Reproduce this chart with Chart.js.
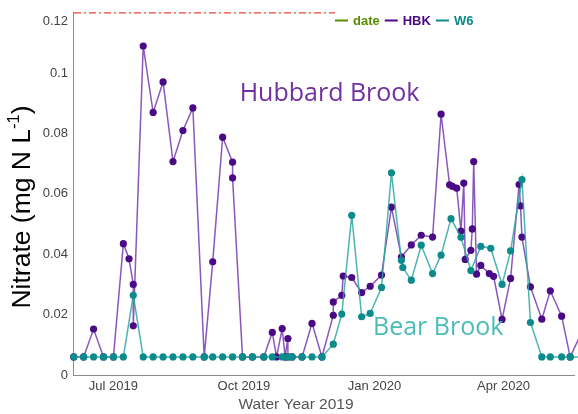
<!DOCTYPE html>
<html>
<head>
<meta charset="utf-8">
<script src="https://cdn.jsdelivr.net/npm/chart.js@4/dist/chart.umd.min.js"></script>
<style>
  html, body { margin: 0; padding: 0; background: #fff; }
</style>
</head>
<body>
<canvas id="nitrate" width="578" height="414"></canvas>
<script>
// weekly samples, Hubbard Brook (HBK) and Bear Brook / watershed 6 (W6)
const hbkDates = [
  '2019-06-03','2019-06-10','2019-06-17','2019-06-24','2019-07-01','2019-07-08','2019-07-12','2019-07-15','2019-07-15',
  '2019-07-22','2019-07-29','2019-08-05','2019-08-12','2019-08-19','2019-08-26','2019-09-03','2019-09-09','2019-09-16',
  '2019-09-23','2019-09-23','2019-09-30','2019-10-07','2019-10-15','2019-10-21','2019-10-24','2019-10-28','2019-10-30',
  '2019-11-01','2019-11-01','2019-11-04','2019-11-11','2019-11-18','2019-11-25','2019-12-03','2019-12-03','2019-12-09',
  '2019-12-10','2019-12-16','2019-12-23','2019-12-29','2020-01-06','2020-01-13','2020-01-20','2020-01-27','2020-02-03',
  '2020-02-11','2020-02-17','2020-02-23','2020-02-25','2020-02-28','2020-03-02','2020-03-04','2020-03-05','2020-03-09',
  '2020-03-10','2020-03-11','2020-03-13','2020-03-16','2020-03-22','2020-03-25','2020-03-31','2020-04-06','2020-04-12',
  '2020-04-13','2020-04-14','2020-04-20','2020-04-28','2020-05-04','2020-05-12','2020-05-18','2020-05-25'
];
const hbkValues = [
  0.006, 0.006, 0.0152, 0.006, 0.006, 0.0435, 0.0385, 0.030, 0.0163,
  0.109, 0.087, 0.0971, 0.0707, 0.081, 0.0885, 0.006, 0.0375, 0.0788,
  0.0705, 0.0653, 0.006, 0.006, 0.006, 0.0141, 0.006, 0.0154, 0.006,
  0.0121, 0.006, 0.006, 0.006, 0.0171, 0.006, 0.0198, 0.0242, 0.0264,
  0.0328, 0.0323, 0.0273, 0.0294, 0.0331, 0.0556, 0.0391, 0.0431, 0.0463,
  0.0457, 0.0864, 0.063, 0.0625, 0.0619, 0.0477, 0.0636, 0.0383, 0.0413,
  0.0484, 0.0707, 0.0334, 0.0363, 0.0336, 0.0327, 0.0184, 0.032, 0.0631,
  0.056, 0.0457, 0.0292, 0.0185, 0.0279, 0.0195, 0.006, 0.013
];
const w6Dates = [
  '2019-06-03','2019-06-10','2019-06-17','2019-06-24','2019-07-01','2019-07-08','2019-07-15','2019-07-22','2019-07-29',
  '2019-08-05','2019-08-12','2019-08-19','2019-08-26','2019-09-03','2019-09-09','2019-09-16','2019-09-23','2019-09-30',
  '2019-10-07','2019-10-15','2019-10-21','2019-10-28','2019-11-01','2019-11-04','2019-11-11','2019-11-18','2019-11-25',
  '2019-12-03','2019-12-09','2019-12-16','2019-12-23','2019-12-29','2020-01-06','2020-01-13','2020-01-20','2020-01-21',
  '2020-01-27','2020-02-03','2020-02-11','2020-02-17','2020-02-24','2020-03-02','2020-03-09','2020-03-16','2020-03-23',
  '2020-03-31','2020-04-06','2020-04-14','2020-04-20','2020-04-28','2020-05-04','2020-05-12','2020-05-18','2020-05-26'
];
const w6Values = [
  0.006, 0.006, 0.006, 0.006, 0.006, 0.006, 0.0264, 0.006, 0.006,
  0.006, 0.006, 0.006, 0.006, 0.006, 0.006, 0.006, 0.006, 0.006,
  0.006, 0.006, 0.006, 0.006, 0.006, 0.006, 0.006, 0.006, 0.006,
  0.0102, 0.0202, 0.0529, 0.0193, 0.0204, 0.029, 0.067, 0.038, 0.0356,
  0.0314, 0.043, 0.0336, 0.0397, 0.0518, 0.0456, 0.0346, 0.0426, 0.042,
  0.030, 0.0411, 0.0647, 0.0174, 0.006, 0.006, 0.006, 0.006, 0.006
];
const tickDates = ['2019-07-01', '2019-10-01', '2020-01-01', '2020-04-01'];
const tickLabels = ['Jul 2019', 'Oct 2019', 'Jan 2020', 'Apr 2020'];
const yTicks = [0, 0.02, 0.04, 0.06, 0.08, 0.1, 0.12];

// days since 1 Jun 2019
const day0 = Date.UTC(2019, 5, 1);
function toDay(s) {
  const [yy, mm, dd] = s.split('-').map(Number);
  return (Date.UTC(yy, mm - 1, dd) - day0) / 864e5;
}
const pts = (dates, vals) => dates.map((d, i) => ({ x: toDay(d), y: vals[i] }));
const fmt = v => String(Number(v.toFixed(3)));

const purple = '#4b0a85';
const teal = '#0b8b8b';
const tickFont = '13px "Liberation Sans", Arial, sans-serif';

const decorations = {
  id: 'decorations',
  afterDraw(chart) {
    const { ctx, chartArea: a, scales: { x, y } } = chart;
    ctx.save();

    // dash-dot line along the top of the plot
    const yTop = y.getPixelForValue(0.12);
    ctx.strokeStyle = '#f4433a';
    ctx.lineWidth = 1.3;
    ctx.setLineDash([7, 3, 2, 3]);
    ctx.beginPath();
    ctx.moveTo(a.left + 1, yTop);
    ctx.lineTo(335, yTop);
    ctx.stroke();
    ctx.setLineDash([]);

    // top tick label sits a little below its tick, as in the original
    ctx.font = tickFont;
    ctx.fillStyle = '#444';
    ctx.textAlign = 'right';
    ctx.textBaseline = 'middle';
    ctx.fillText(fmt(yTicks[yTicks.length - 1]), a.left - 5, y.getPixelForValue(0.12) + 8.5);

    // legend
    const items = [['date', '#5a8c00'], ['HBK', purple], ['W6', teal]];
    ctx.font = 'bold 13px "Liberation Sans", Arial, sans-serif';
    ctx.textAlign = 'left';
    let lx = 335;
    const ly = 20.5;
    items.forEach(([name, col]) => {
      ctx.strokeStyle = col;
      ctx.lineWidth = 2;
      ctx.beginPath();
      ctx.moveTo(lx, ly);
      ctx.lineTo(lx + 13, ly);
      ctx.stroke();
      ctx.fillStyle = col;
      ctx.fillText(name, lx + 18, ly + 0.5);
      lx += 18 + ctx.measureText(name).width + 5;
    });

    // site labels
    ctx.font = '25px "Open Sans", sans-serif';
    ctx.fillStyle = '#7030a0';
    ctx.fillText('Hubbard Brook', x.getPixelForValue(toDay('2019-09-28')), y.getPixelForValue(0.0933));
    ctx.fillStyle = '#4cbcb6';
    ctx.fillText('Bear Brook', x.getPixelForValue(toDay('2019-12-31')), y.getPixelForValue(0.0155));

    // axis titles
    ctx.fillStyle = '#555';
    ctx.font = '15.5px "Liberation Sans", Arial, sans-serif';
    ctx.textAlign = 'center';
    ctx.fillText('Water Year 2019', 296, 405);

    ctx.translate(23, 207);
    ctx.rotate(-Math.PI / 2);
    ctx.fillStyle = '#000';
    const big = '26.5px "Liberation Sans", Arial, sans-serif';
    const small = '16.5px "Liberation Sans", Arial, sans-serif';
    ctx.font = big;
    const p1 = 'Nitrate (mg N L';
    const w1 = ctx.measureText(p1).width;
    ctx.font = small;
    const w2 = ctx.measureText('-1').width;
    ctx.font = big;
    const w3 = ctx.measureText(')').width;
    let tx = -(w1 + w2 + w3) / 2;
    ctx.textAlign = 'left';
    ctx.fillText(p1, tx, 0);
    ctx.font = small;
    ctx.fillText('-1', tx + w1, -9);
    ctx.font = big;
    ctx.fillText(')', tx + w1 + w2, 0);
    ctx.restore();
  }
};

new Chart(document.getElementById('nitrate'), {
  type: 'line',
  data: {
    datasets: [
      {
        label: 'W6',
        data: pts(w6Dates, w6Values),
        borderColor: 'rgba(45, 168, 163, 0.85)',
        backgroundColor: teal,
        pointBackgroundColor: teal,
        borderWidth: 1.5,
        pointRadius: 3.6,
        pointBorderWidth: 0,
        order: 0
      },
      {
        label: 'HBK',
        data: pts(hbkDates, hbkValues),
        borderColor: 'rgba(118, 58, 175, 0.85)',
        backgroundColor: purple,
        pointBackgroundColor: purple,
        borderWidth: 1.5,
        pointRadius: 3.6,
        pointBorderWidth: 0,
        order: 1
      }
    ]
  },
  options: {
    responsive: false,
    animation: false,
    clip: false,
    layout: { padding: { top: 12, left: 0, right: 0, bottom: 0 } },
    plugins: { legend: { display: false }, tooltip: { enabled: false } },
    scales: {
      x: {
        type: 'linear',
        min: 1.5,
        max: 354.7,
        grid: { display: false, drawTicks: false },
        border: { display: true, color: '#8c8c8c', width: 1 },
        afterBuildTicks: s => { s.ticks = tickDates.map(d => ({ value: toDay(d) })); },
        afterFit: s => { s.height = 39; },
        ticks: {
          autoSkip: false,
          maxRotation: 0,
          padding: 4,
          color: '#444',
          font: { family: '"Liberation Sans", Arial, sans-serif', size: 13 },
          callback: (v, i) => tickLabels[i]
        }
      },
      y: {
        min: 0,
        max: 0.12,
        grid: { display: false, drawTicks: false },
        border: { display: true, color: '#8c8c8c', width: 1 },
        afterBuildTicks: s => { s.ticks = yTicks.map(v => ({ value: v })); },
        afterFit: s => { s.width = 73; },
        ticks: {
          padding: 5,
          color: '#444',
          font: { family: '"Liberation Sans", Arial, sans-serif', size: 13 },
          // the top label is drawn by the plugin, slightly lowered
          callback: v => (v === yTicks[yTicks.length - 1] ? '' : fmt(v))
        }
      }
    }
  },
  plugins: [decorations]
});
</script>
</body>
</html>
